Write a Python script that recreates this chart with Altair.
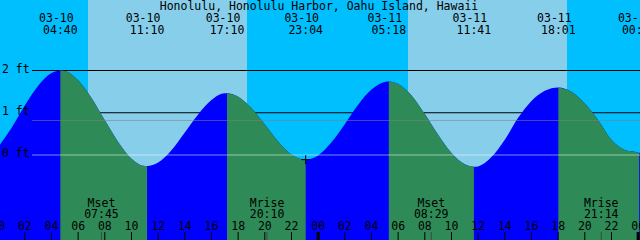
import altair as alt
import pandas as pd

W, H = 640, 240
T0 = 0.14            # hours after 03-10 00:00 at the left edge
T1 = T0 + 48.0

title_text = "Honolulu, Honolulu Harbor, Oahu Island, Hawaii"

# tide curve (hours after 03-10 00:00, feet)
tide_hours = [0, 1, 2, 3, 4, 4.667, 5, 6, 7, 8, 9, 10, 11, 11.167,
              12, 13, 14, 15, 16, 17, 17.167, 18, 19, 20, 21, 22, 23, 23.067,
              24, 25, 26, 27, 28, 29, 29.3, 30, 31, 32, 33, 34, 35, 35.683,
              36, 37, 38, 39, 40, 41, 42, 42.017, 43, 44, 45, 46, 47, 48, 48.083, 48.5]
tide_feet = [0.19, 0.64, 1.17, 1.64, 1.94, 2.00, 1.99, 1.77, 1.35, 0.82, 0.31, -0.09, -0.26, -0.26,
             -0.18, 0.11, 0.53, 0.96, 1.30, 1.46, 1.46, 1.38, 1.11, 0.72, 0.32, 0.01, -0.11, -0.11,
             -0.01, 0.30, 0.73, 1.19, 1.55, 1.73, 1.74, 1.68, 1.41, 0.97, 0.48, 0.05, -0.22, -0.28,
             -0.27, -0.05, 0.36, 0.88, 1.28, 1.52, 1.60, 1.60, 1.50, 1.22, 0.83, 0.36, 0.12, 0.06, 0.05, 0.07]

# high / low tide events
event_hours = [4.667, 11.167, 17.167, 23.067, 29.3, 35.683, 42.017, 48.083]
event_kind = ["H", "L", "H", "L", "H", "L", "H", "L"]
event_dates = ["03-10", "03-10", "03-10", "03-10", "03-11", "03-11", "03-11", "03-12"]
event_times = ["04:40", "11:10", "17:10", "23:04", "05:18", "11:41", "18:01", "00:05"]

# daylight
day_start = [6.74, 30.74]
day_end = [18.67, 42.67]

# moon events
moon_hours = [7.75, 20.167, 32.483, 45.233]
moon_names = ["Mset", "Mrise", "Mset", "Mrise"]
moon_times = ["07:45", "20:10", "08:29", "21:14"]

grid_levels = [2, 1]
label_levels = [2, 1, 0]
label_texts = ["2 ft", "1 ft", "0 ft"]
msl_level = [0.817]
datum_level = [0]
now_hour = [23.067]
now_feet = [-0.11]

hour_ticks = list(range(0, 49, 2))
hour_labels = ["%02d" % (h % 24) for h in hour_ticks]

NIGHT, DAY = "#00BFFF", "#87CEEB"
FLOOD, EBB = "#0000FF", "#2E8B57"
FONT = "DejaVu Sans Mono"
FS = 11.5

xs = alt.Scale(domain=[T0, T1], nice=False, zero=False)
ys = alt.Scale(domain=[-85 / 42.25, 155 / 42.25], nice=False, zero=False)

# sky bands
bands = []
edges = [T0 - 2]
for a, b in zip(day_start, day_end):
    edges += [a, b]
edges.append(T1 + 2)
for i in range(len(edges) - 1):
    bands.append({"a": edges[i], "b": edges[i + 1], "c": DAY if i % 2 else NIGHT})
sky = alt.Chart(pd.DataFrame(bands)).mark_rect(clip=True).encode(
    x=alt.X("a:Q", scale=xs, axis=None), x2="b:Q",
    y=alt.value(0), y2=alt.value(H),
    color=alt.Color("c:N", scale=None))

grid = alt.Chart(pd.DataFrame({"lvl": grid_levels})).mark_rule(color="black", strokeWidth=1).encode(
    y=alt.Y("lvl:Q", scale=ys, axis=None), x=alt.value(32), x2=alt.value(W))

tide = pd.DataFrame({"t": tide_hours, "h": tide_feet})
base = alt.Chart(tide).mark_area(color=FLOOD, interpolate="monotone", clip=True).encode(
    x=alt.X("t:Q", scale=xs, axis=None),
    y=alt.Y("h:Q", scale=ys, axis=None, stack=None),
    y2=alt.value(H))

segs = []
bounds = [T0 - 5] + event_hours + [T1 + 5]
for i in range(1, len(bounds) - 1):
    if event_kind[i - 1] != "H":
        continue
    a, b = bounds[i], bounds[i + 1]
    part = tide[(tide.t >= a - 1e-9) & (tide.t <= b + 1e-9)].copy()
    part["seg"] = i
    segs.append(part)
ebb = pd.concat(segs, ignore_index=True)
ebb_area = alt.Chart(ebb).mark_area(color=EBB, interpolate="monotone", clip=True).encode(
    x=alt.X("t:Q", scale=xs, axis=None),
    y=alt.Y("h:Q", scale=ys, axis=None, stack=None),
    y2=alt.value(H),
    detail="seg:N")

msl = alt.Chart(pd.DataFrame({"lvl": msl_level})).mark_rule(color="#808080", opacity=0.55, strokeWidth=1).encode(
    y=alt.Y("lvl:Q", scale=ys), x=alt.value(32), x2=alt.value(W))
datum = alt.Chart(pd.DataFrame({"lvl": datum_level})).mark_rule(color="#ffffff", opacity=0.5, strokeWidth=1).encode(
    y=alt.Y("lvl:Q", scale=ys), x=alt.value(32), x2=alt.value(W))

now = alt.Chart(pd.DataFrame({"t": now_hour, "h": now_feet})).mark_point(
    shape="M-1,0L1,0M0,-1L0,1", size=81, filled=False, stroke="black", strokeWidth=1, opacity=1).encode(
    x=alt.X("t:Q", scale=xs), y=alt.Y("h:Q", scale=ys))

ylab = alt.Chart(pd.DataFrame({"lvl": label_levels, "txt": label_texts})).mark_text(
    align="left", baseline="middle", font=FONT, fontSize=FS, color="black", dy=-1).encode(
    y=alt.Y("lvl:Q", scale=ys), x=alt.value(2), text="txt:N")

ev = pd.DataFrame({"t": event_hours, "d": event_dates, "tm": event_times})
ev_date = alt.Chart(ev).mark_text(align="center", baseline="alphabetic", font=FONT, fontSize=FS,
                                  color="black", dx=-4).encode(
    x=alt.X("t:Q", scale=xs), y=alt.value(21.5), text="d:N")
ev_time = alt.Chart(ev).mark_text(align="center", baseline="alphabetic", font=FONT, fontSize=FS,
                                  color="black").encode(
    x=alt.X("t:Q", scale=xs), y=alt.value(33.5), text="tm:N")

title = alt.Chart(pd.DataFrame({"txt": [title_text]})).mark_text(
    align="center", baseline="alphabetic", font=FONT, fontSize=FS, color="black").encode(
    x=alt.value(W / 2 - 1), y=alt.value(10), text="txt:N")

mo = pd.DataFrame({"t": moon_hours, "n": moon_names, "tm": moon_times})
moon_name = alt.Chart(mo).mark_text(align="center", baseline="alphabetic", font=FONT, fontSize=FS,
                                    color="black").encode(
    x=alt.X("t:Q", scale=xs), y=alt.value(206.5), text="n:N")
moon_time = alt.Chart(mo).mark_text(align="center", baseline="alphabetic", font=FONT, fontSize=FS,
                                    color="black").encode(
    x=alt.X("t:Q", scale=xs), y=alt.value(217.5), text="tm:N")
moon_tick = alt.Chart(mo).mark_rule(color="#444444", strokeWidth=1).encode(
    x=alt.X("t:Q", scale=xs), y=alt.value(232), y2=alt.value(H))

hrs = pd.DataFrame({"t": hour_ticks, "lab": hour_labels,
                    "w": [3 if h % 24 == 0 else 1 for h in hour_ticks]})
hour_lab = alt.Chart(hrs).mark_text(align="center", baseline="alphabetic", font=FONT, fontSize=FS,
                                    color="black").encode(
    x=alt.X("t:Q", scale=xs), y=alt.value(230), text="lab:N")
hour_tick = alt.Chart(hrs).mark_rule(color="black").encode(
    x=alt.X("t:Q", scale=xs), y=alt.value(232), y2=alt.value(H),
    strokeWidth=alt.StrokeWidth("w:Q", scale=None))

chart = alt.layer(
    sky, grid, base, ebb_area, msl, datum, now, ylab, ev_date, ev_time, title,
    moon_name, moon_time, moon_tick, hour_lab, hour_tick
).properties(
    width=W, height=H, padding=0, autosize=alt.AutoSizeParams(type="none"),
    background=NIGHT
).configure_view(stroke=None)

chart.save("out.html", embed_options={"renderer": "svg", "actions": False})
